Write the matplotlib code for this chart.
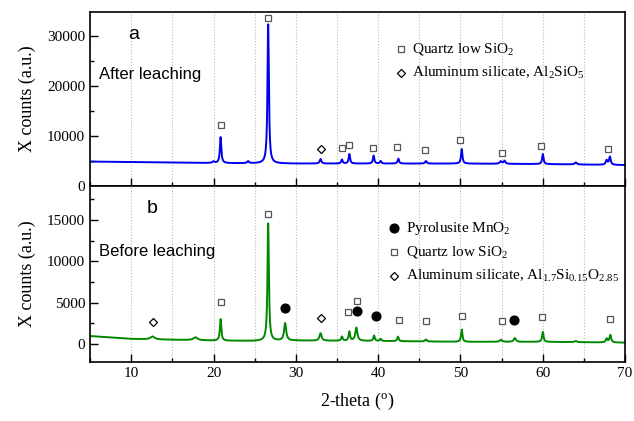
import numpy as np
import matplotlib
matplotlib.use("Agg")
import matplotlib.pyplot as plt
from matplotlib.ticker import MultipleLocator

plt.rcParams["mathtext.fontset"] = "custom"
plt.rcParams["mathtext.rm"] = "Liberation Serif"
plt.rcParams["mathtext.it"] = "Liberation Serif:italic"
plt.rcParams["mathtext.bf"] = "Liberation Serif:bold"

# peak lists: position (2-theta), height above baseline, half width
top_pos = [20.0, 20.86, 24.2, 26.64, 33.0, 35.6, 36.5, 39.45, 40.3, 42.45, 45.8, 50.15, 54.9, 55.35, 60.0, 64.0, 67.75, 68.15]
top_hgt = [300, 5200, 400, 27800, 900, 800, 1900, 1600, 500, 1000, 500, 2900, 500, 600, 2000, 400, 900, 1600]
top_wid = [0.15, 0.1, 0.12, 0.1, 0.12, 0.1, 0.1, 0.1, 0.1, 0.1, 0.12, 0.1, 0.15, 0.12, 0.1, 0.15, 0.12, 0.12]
top_base_x = [5, 10, 20, 30, 40, 50, 60, 70]
top_base_y = [4900, 4800, 4600, 4500, 4500, 4500, 4400, 4200]

bot_pos = [12.6, 17.8, 20.86, 26.64, 28.7, 33.0, 35.6, 36.5, 37.35, 39.5, 40.3, 42.4, 45.8, 50.15, 54.9, 56.6, 60.0, 64.0, 67.75, 68.2]
bot_hgt = [350, 350, 2600, 14200, 2100, 900, 500, 1100, 1600, 650, 250, 550, 250, 1500, 250, 450, 1200, 150, 450, 900]
bot_wid = [0.3, 0.3, 0.1, 0.1, 0.15, 0.15, 0.1, 0.1, 0.15, 0.1, 0.1, 0.1, 0.12, 0.1, 0.15, 0.15, 0.1, 0.15, 0.12, 0.12]
bot_base_x = [5, 10, 20, 25, 30, 40, 50, 60, 70]
bot_base_y = [950, 600, 400, 350, 400, 350, 250, 250, 150]

# phase markers (x, y) placed above peaks
top_quartz_x = [20.9, 26.6, 35.6, 36.5, 39.4, 42.3, 45.7, 50.0, 55.1, 59.8, 67.9]
top_quartz_y = [12200, 33600, 7600, 8200, 7600, 7800, 7200, 9200, 6600, 8000, 7400]
top_alsi_x = [33.1]
top_alsi_y = [7400]

bot_mno2_x = [28.7, 37.4, 39.75, 56.5]
bot_mno2_y = [4350, 4000, 3400, 2900]
bot_quartz_x = [20.9, 26.6, 36.3, 37.4, 42.5, 45.8, 50.2, 55.1, 59.9, 68.2]
bot_quartz_y = [5100, 15700, 3900, 5200, 2900, 2800, 3400, 2800, 3200, 3000]
bot_alsi_x = [12.7, 33.0]
bot_alsi_y = [2600, 3150]

x = np.arange(5, 70.01, 0.02)


def pattern(pos, hgt, wid, bx, by):
    y = np.interp(x, bx, by)
    for p, h, w in zip(pos, hgt, wid):
        y = y + h / (1 + ((x - p) / w) ** 2)
    return y


y_top = pattern(top_pos, top_hgt, top_wid, top_base_x, top_base_y)
y_bot = pattern(bot_pos, bot_hgt, bot_wid, bot_base_x, bot_base_y)

serif = "Liberation Serif"
sans = "Liberation Sans"

fig = plt.figure(figsize=(6.34, 4.21), dpi=100)
ax1 = fig.add_axes([0.142, 0.558, 0.844, 0.4135])
ax2 = fig.add_axes([0.142, 0.140, 0.844, 0.418], sharex=ax1)

ax1.plot(x, y_top, color="#0000ee", lw=1.4)
ax2.plot(x, y_bot, color="#008800", lw=1.4)

sq = dict(marker="s", ls="none", ms=4.5, mfc="white", mec="#555555", mew=0.9)
dm = dict(marker="D", ls="none", ms=4.5, mfc="white", mec="black", mew=0.9)
cc = dict(marker="o", ls="none", ms=6.3, mfc="black", mec="black")

ax1.plot(top_quartz_x, top_quartz_y, **sq)
ax1.plot(top_alsi_x, top_alsi_y, **dm)
ax2.plot(bot_mno2_x, bot_mno2_y, **cc)
ax2.plot(bot_quartz_x, bot_quartz_y, **sq)
ax2.plot(bot_alsi_x, bot_alsi_y, **dm)

ax1.set_xlim(5, 70)
ax1.set_ylim(0, 34800)
ax2.set_ylim(-2200, 19100)

for ax in (ax1, ax2):
    ax.xaxis.set_major_locator(MultipleLocator(10))
    ax.xaxis.set_minor_locator(MultipleLocator(5))
    ax.grid(True, axis="x", which="both", ls=":", color="#bbbbbb", lw=0.8)
    ax.tick_params(which="both", direction="in", top=False, right=False, width=1.0)
    ax.tick_params(which="major", length=6, labelsize=11)
    ax.tick_params(which="minor", length=3)
    for s in ax.spines.values():
        s.set_linewidth(1.2)

ax1.yaxis.set_major_locator(MultipleLocator(10000))
ax1.yaxis.set_minor_locator(MultipleLocator(5000))
ax2.yaxis.set_major_locator(MultipleLocator(5000))
ax2.yaxis.set_minor_locator(MultipleLocator(2500))
ax1.tick_params(labelbottom=False)
for lab in ax1.get_yticklabels() + ax2.get_yticklabels() + ax2.get_xticklabels():
    lab.set_family(serif)

ax1.set_ylabel("X counts (a.u.)", family=serif, fontsize=13, labelpad=8)
ax2.set_ylabel("X counts (a.u.)", family=serif, fontsize=13, labelpad=8)
ax2.set_xlabel("2-theta ($^{\\rm o}$)", family=serif, fontsize=13, labelpad=8)

ax1.text(0.082, 0.87, "a", transform=ax1.transAxes, family=sans, fontsize=14, ha="center", va="center")
ax1.text(0.017, 0.64, "After leaching", transform=ax1.transAxes, family=sans, fontsize=12, ha="left", va="center")
ax2.text(0.116, 0.87, "b", transform=ax2.transAxes, family=sans, fontsize=14, ha="center", va="center")
ax2.text(0.016, 0.63, "Before leaching", transform=ax2.transAxes, family=sans, fontsize=12, ha="left", va="center")

# legend-like keys drawn as text entries
tf = dict(family=serif, fontsize=11, va="center", ha="left")
ax1.plot([0.582], [0.785], transform=ax1.transAxes, **sq)
ax1.text(0.602, 0.785, "Quartz low SiO$_2$", transform=ax1.transAxes, **tf)
ax1.plot([0.582], [0.65], transform=ax1.transAxes, **dm)
ax1.text(0.602, 0.65, "Aluminum silicate, Al$_2$SiO$_5$", transform=ax1.transAxes, **tf)

ax2.plot([0.568], [0.76], transform=ax2.transAxes, **cc)
ax2.text(0.59, 0.76, "Pyrolusite MnO$_2$", transform=ax2.transAxes, **tf)
ax2.plot([0.568], [0.625], transform=ax2.transAxes, **sq)
ax2.text(0.59, 0.625, "Quartz low SiO$_2$", transform=ax2.transAxes, **tf)
ax2.plot([0.568], [0.49], transform=ax2.transAxes, **dm)
ax2.text(0.59, 0.49, "Aluminum silicate, Al$_{1.7}$Si$_{0.15}$O$_{2.85}$", transform=ax2.transAxes, **tf)

fig.savefig("out.png", dpi=100)
